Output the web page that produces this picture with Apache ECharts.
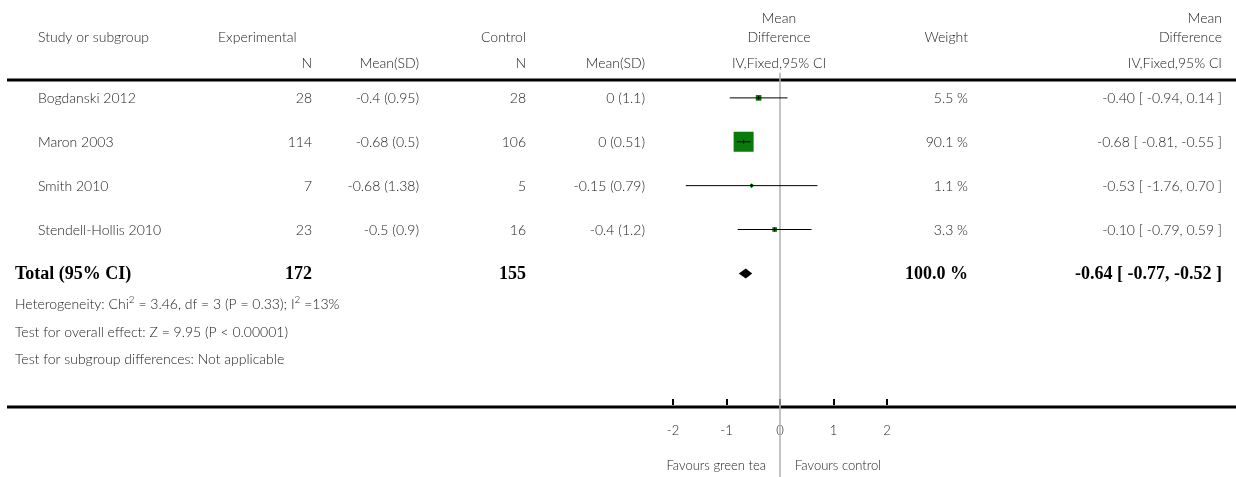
<!DOCTYPE html>
<html><head><meta charset="utf-8">
<script src="https://cdn.jsdelivr.net/npm/echarts@6/dist/echarts.min.js"></script>
<style>html,body{margin:0;padding:0;background:#fff}#c{width:1236px;height:477px}</style>
</head><body><div id="c"></div>
<script>
var studies = ['Bogdanski 2012', 'Maron 2003', 'Smith 2010', 'Stendell-Hollis 2010'];
var expN = [28, 114, 7, 23];
var expMean = ['-0.4 (0.95)', '-0.68 (0.5)', '-0.68 (1.38)', '-0.5 (0.9)'];
var ctlN = [28, 106, 5, 16];
var ctlMean = ['0 (1.1)', '0 (0.51)', '-0.15 (0.79)', '-0.4 (1.2)'];
var md = [-0.40, -0.68, -0.53, -0.10];
var lo = [-0.94, -0.81, -1.76, -0.79];
var hi = [0.14, -0.55, 0.70, 0.59];
var weight = [5.5, 90.1, 1.1, 3.3];
var total = {n1: 172, n2: 155, md: -0.64, lo: -0.77, hi: -0.52, weight: 100.0};
var xTicks = [-2, -1, 0, 1, 2];

var font = 'Lato, "Open Sans", sans-serif';
var txtColor = '#222';
function ci(m, l, h) { return m.toFixed(2) + ' [ ' + l.toFixed(2) + ', ' + h.toFixed(2) + ' ]'; }

var gridTop = 54, rowH = 44;
function rowY(i) { return gridTop + rowH * (i + 1); }

var g = [];
function t(x, y, s, align, extra) {
    var st = {x: x, y: y, text: s, align: align || 'left', verticalAlign: 'middle',
        font: '300 14px ' + font, fill: txtColor};
    for (var k in extra) st[k] = extra[k];
    g.push({type: 'text', style: st, z: 10});
}
// headers
t(38, 37, 'Study or subgroup');
t(218, 37, 'Experimental');
t(526, 37, 'Control', 'right');
t(779, 18, 'Mean', 'center');
t(779, 37, 'Difference', 'center');
t(968, 37, 'Weight', 'right');
t(1222, 18, 'Mean', 'right');
t(1222, 37, 'Difference', 'right');
t(312, 63, 'N', 'right');
t(419, 63, 'Mean(SD)', 'right');
t(526, 63, 'N', 'right');
t(645, 63, 'Mean(SD)', 'right');
t(779, 63, 'IV,Fixed,95% CI', 'center');
t(1222, 63, 'IV,Fixed,95% CI', 'right');
g.push({type: 'line', shape: {x1: 7, y1: 80, x2: 1236, y2: 80}, style: {stroke: '#000', lineWidth: 3}});
g.push({type: 'line', shape: {x1: 7, y1: 407, x2: 1236, y2: 407}, style: {stroke: '#000', lineWidth: 3}});

studies.forEach(function (s, i) {
    var y = rowY(i);
    t(38, y, s);
    t(312, y, String(expN[i]), 'right');
    t(419, y, expMean[i], 'right');
    t(526, y, String(ctlN[i]), 'right');
    t(645, y, ctlMean[i], 'right');
    t(968, y, weight[i].toFixed(1) + ' %', 'right');
    t(1222, y, ci(md[i], lo[i], hi[i]), 'right');
});
var ty = rowY(4);
var bold = {font: 'bold 18px "Liberation Serif", serif', fill: '#000'};
t(15, ty, 'Total (95% CI)', 'left', bold);
t(312, ty, String(total.n1), 'right', bold);
t(526, ty, String(total.n2), 'right', bold);
t(968, ty, total.weight.toFixed(1) + ' %', 'right', bold);
t(1222, ty, ci(total.md, total.lo, total.hi), 'right', bold);
t(15, 304, '{a|Heterogeneity: Chi}{s|2}{a| = 3.46, df = 3 (P = 0.33); I}{s|2}{a| =13%}', 'left',
    {rich: {a: {font: '300 14px ' + font, fill: txtColor}, s: {font: '300 10px ' + font, fill: txtColor, verticalAlign: 'top', padding: [0, 0, 8, 0]}}});
t(15, 332, 'Test for overall effect: Z = 9.95 (P < 0.00001)');
t(15, 359, 'Test for subgroup differences: Not applicable');
t(766, 466, 'Favours green tea', 'right', {font: '300 13px ' + font});
t(795, 466, 'Favours control', 'left', {font: '300 13px ' + font});

var rows = studies.map(function (s, i) { return [md[i], i, lo[i], hi[i], weight[i]]; });

var option = {
    animation: false,
    grid: {left: 673, width: 214, top: gridTop, height: rowH * 8 - 1},
    xAxis: {
        type: 'value', min: -2, max: 2, interval: 1, position: 'bottom',
        axisLine: {show: false, onZero: false},
        axisTick: {inside: true, length: 6, lineStyle: {color: '#000', width: 2}},
        splitLine: {show: false},
        axisLabel: {margin: 19, fontFamily: font, fontWeight: 300, fontSize: 13, color: txtColor,
            formatter: function (v) { return xTicks.indexOf(v) >= 0 ? String(v) : ''; }}
    },
    yAxis: {type: 'value', min: -1, max: 7, inverse: true, show: false},
    graphic: g,
    series: [{
        type: 'custom',
        data: [[0, -0.57, 9.5]],
        z: 1,
        renderItem: function (params, api) {
            var a = api.coord([api.value(0), api.value(1)]);
            var b = api.coord([api.value(0), api.value(2)]);
            return {type: 'line', shape: {x1: a[0], y1: a[1], x2: b[0], y2: b[1]}, style: {stroke: '#b0b0b0', lineWidth: 1.5}};
        }
    }, {
        type: 'custom',
        data: rows,
        z: 2,
        renderItem: function (params, api) {
            var p = api.coord([api.value(0), api.value(1)]);
            var a = api.coord([api.value(2), api.value(1)]);
            var b = api.coord([api.value(3), api.value(1)]);
            var sz = 1 + 19 * Math.sqrt(api.value(4) / 90.1);
            return {type: 'group', children: [
                {type: 'rect', shape: {x: p[0] - sz / 2, y: p[1] - sz / 2, width: sz, height: sz}, style: {fill: '#0a7a0a'}},
                {type: 'line', shape: {x1: a[0], y1: a[1], x2: b[0], y2: b[1]}, style: {stroke: '#000', lineWidth: 1}},
                {type: 'line', shape: {x1: p[0], y1: p[1] - 2, x2: p[0], y2: p[1] + 2}, style: {stroke: '#000', lineWidth: 1}}
            ]};
        }
    }, {
        type: 'custom',
        data: [[total.md, 4, total.lo, total.hi]],
        z: 2,
        renderItem: function (params, api) {
            var p = api.coord([api.value(0), api.value(1)]);
            var a = api.coord([api.value(2), api.value(1)]);
            var b = api.coord([api.value(3), api.value(1)]);
            return {type: 'polygon', shape: {points: [[a[0], p[1]], [p[0], p[1] - 5], [b[0], p[1]], [p[0], p[1] + 5]]},
                style: {fill: '#000'}};
        }
    }]
};
echarts.init(document.getElementById('c')).setOption(option);
</script></body></html>
